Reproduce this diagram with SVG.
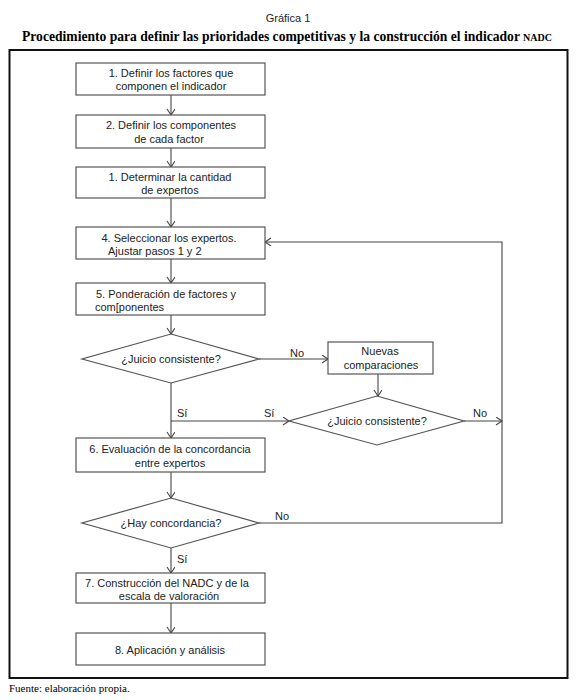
<svg xmlns="http://www.w3.org/2000/svg" width="580" height="700" viewBox="0 0 580 700">
<defs>
<style>
.box{fill:#fff;stroke:#555;stroke-width:1.2}
.t{font-family:"Liberation Sans",Arial,sans-serif;font-size:11px;fill:#222;text-anchor:middle}
.l{font-family:"Liberation Sans",Arial,sans-serif;font-size:11px;fill:#222}
.c{fill:none;stroke:#444;stroke-width:1.1}
</style>
<marker id="ah" markerWidth="10" markerHeight="10" refX="7" refY="4" orient="auto" markerUnits="userSpaceOnUse">
<polyline points="1,0 7,4 1,8" fill="none" stroke="#444" stroke-width="1.1"/>
</marker>
</defs>
<rect width="580" height="700" fill="#fff"/>
<text x="288" y="22" class="t">Gráfica 1</text>
<text x="287" y="41" font-family="'Liberation Serif','Times New Roman',serif" font-size="13.6" font-weight="bold" text-anchor="middle" fill="#000">Procedimiento para definir las prioridades competitivas y la construcción el indicador <tspan font-size="10">NADC</tspan></text>
<rect x="9.5" y="50" width="558" height="628" fill="none" stroke="#111" stroke-width="2"/>
<text x="9" y="692" font-family="'Liberation Serif','Times New Roman',serif" font-size="11" fill="#000">Fuente: elaboración propia.</text>

<g id="connectors">
<line class="c" x1="171" y1="95" x2="171" y2="115" marker-end="url(#ah)"/>
<line class="c" x1="171" y1="148" x2="171" y2="167" marker-end="url(#ah)"/>
<line class="c" x1="171" y1="198" x2="171" y2="227" marker-end="url(#ah)"/>
<line class="c" x1="171" y1="259" x2="171" y2="283" marker-end="url(#ah)"/>
<line class="c" x1="171" y1="315" x2="171" y2="334" marker-end="url(#ah)"/>
<line class="c" x1="259" y1="359" x2="328" y2="359" marker-end="url(#ah)"/>
<line class="c" x1="378" y1="374" x2="378" y2="396" marker-end="url(#ah)"/>
<line class="c" x1="171" y1="383" x2="171" y2="438" marker-end="url(#ah)"/>
<line class="c" x1="171" y1="421" x2="289" y2="421" marker-end="url(#ah)"/>
<line class="c" x1="464" y1="421" x2="502" y2="421" marker-end="url(#ah)"/>
<polyline class="c" points="259,523 502,523 502,242 265,242" marker-end="url(#ah)"/>
<line class="c" x1="171" y1="472" x2="171" y2="498" marker-end="url(#ah)"/>
<line class="c" x1="171" y1="548" x2="171" y2="573" marker-end="url(#ah)"/>
<line class="c" x1="171" y1="603" x2="171" y2="633" marker-end="url(#ah)"/>
<text x="290" y="357" class="l">No</text>
<text x="177" y="417" class="l">Sí</text>
<text x="264" y="417" class="l">Sí</text>
<text x="473" y="417" class="l">No</text>
<text x="275" y="520" class="l">No</text>
<text x="177" y="563" class="l">Sí</text>
</g>

<g id="n1">
<rect class="box" x="76" y="63" width="189" height="32"/>
<text x="171" y="77" class="t">1. Definir los factores que</text>
<text x="171" y="90" class="t">componen el indicador</text>
</g>
<g id="n2">
<rect class="box" x="76" y="115" width="189" height="33"/>
<text x="171" y="129" class="t">2. Definir los componentes</text>
<text x="169" y="143" class="t">de cada factor</text>
</g>
<g id="n3">
<rect class="box" x="76" y="167" width="189" height="31"/>
<text x="170" y="181" class="t">1. Determinar la cantidad</text>
<text x="170" y="194" class="t">de expertos</text>
</g>
<g id="n4">
<rect class="box" x="76" y="227" width="189" height="32"/>
<text x="169" y="242" class="t">4. Seleccionar los expertos.</text>
<text x="108" y="255" class="l">Ajustar pasos 1 y 2</text>
</g>
<g id="n5">
<rect class="box" x="76" y="283" width="189" height="32"/>
<text x="166" y="298" class="t">5. Ponderación de factores y</text>
<text x="95" y="311" class="l">com[ponentes</text>
</g>
<g id="d1">
<polygon class="box" points="171,334 259,359 171,383 82,359"/>
<text x="171" y="363" class="t">¿Juicio consistente?</text>
</g>
<g id="n_nuevas">
<rect class="box" x="328" y="342" width="105" height="32"/>
<text x="380" y="355" class="t">Nuevas</text>
<text x="381" y="369" class="t">comparaciones</text>
</g>
<g id="d2">
<polygon class="box" points="377,396 464,421 377,445 289,421"/>
<text x="377" y="425" class="t">¿Juicio consistente?</text>
</g>
<g id="n6">
<rect class="box" x="76" y="438" width="189" height="34"/>
<text x="170" y="453" class="t">6. Evaluación de la concordancia</text>
<text x="170" y="467" class="t">entre expertos</text>
</g>
<g id="d3">
<polygon class="box" points="171,498 259,523 171,548 82,523"/>
<text x="171" y="527" class="t">¿Hay concordancia?</text>
</g>
<g id="n7">
<rect class="box" x="76" y="573" width="189" height="30"/>
<text x="167" y="587" class="t">7. Construcción del NADC y de la</text>
<text x="169" y="600" class="t">escala de valoración</text>
</g>
<g id="n8">
<rect class="box" x="76" y="633" width="189" height="32"/>
<text x="170" y="654" class="t">8. Aplicación y análisis</text>
</g>
</svg>
